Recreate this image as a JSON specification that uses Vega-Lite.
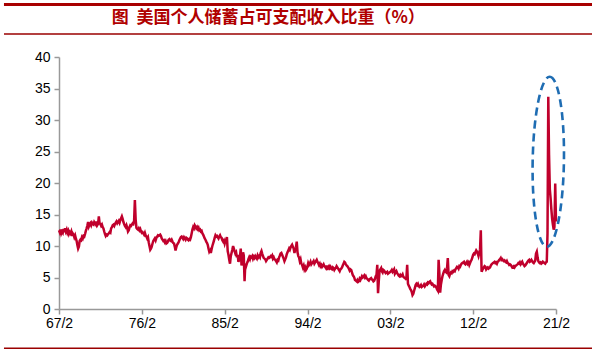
{
  "$schema": "https://vega.github.io/schema/vega-lite/v6.json",
  "width": 497,
  "height": 252,
  "autosize": "none",
  "padding": {"left": 59, "top": 57, "right": 36, "bottom": 40},
  "background": "white",
  "config": {
    "view": {"stroke": null},
    "axis": {"grid": false, "domainColor": "#999999", "tickColor": "#999999", "domainWidth": 1.5, "tickWidth": 1.5, "tickSize": 5, "labelFont": "Liberation Sans", "labelFontSize": 14, "labelColor": "#000000", "labelFlush": false, "labelOverlap": false, "title": null}
  },
  "data": {"values": [
{"d":"1967-02","v":12.5},{"d":"1967-03","v":12.2},{"d":"1967-04","v":12.6},{"d":"1967-05","v":12.0},{"d":"1967-06","v":12.3},{"d":"1967-07","v":12.1},{"d":"1967-08","v":12.7},{"d":"1967-09","v":12.2},{"d":"1967-10","v":12.8},{"d":"1967-11","v":12.3},{"d":"1967-12","v":12.6},
{"d":"1968-01","v":12.1},{"d":"1968-02","v":12.4},{"d":"1968-03","v":11.9},{"d":"1968-04","v":12.2},{"d":"1968-05","v":12.0},{"d":"1968-06","v":12.3},{"d":"1968-07","v":11.6},{"d":"1968-08","v":12.0},{"d":"1968-09","v":11.8},{"d":"1968-10","v":11.4},{"d":"1968-11","v":11.7},{"d":"1968-12","v":11.2},
{"d":"1969-01","v":10.8},{"d":"1969-02","v":10.1},{"d":"1969-03","v":9.6},{"d":"1969-04","v":9.9},{"d":"1969-05","v":10.8},{"d":"1969-06","v":11.0},{"d":"1969-07","v":10.9},{"d":"1969-08","v":11.4},{"d":"1969-09","v":11.2},{"d":"1969-10","v":11.6},{"d":"1969-11","v":11.5},{"d":"1969-12","v":11.9},
{"d":"1970-01","v":12.4},{"d":"1970-02","v":12.8},{"d":"1970-03","v":13.2},{"d":"1970-04","v":13.8},{"d":"1970-05","v":13.1},{"d":"1970-06","v":13.4},{"d":"1970-07","v":13.6},{"d":"1970-08","v":13.3},{"d":"1970-09","v":13.7},{"d":"1970-10","v":13.5},{"d":"1970-11","v":13.4},{"d":"1970-12","v":13.8},
{"d":"1971-01","v":13.6},{"d":"1971-02","v":13.4},{"d":"1971-03","v":13.9},{"d":"1971-04","v":13.3},{"d":"1971-05","v":13.5},{"d":"1971-06","v":14.7},{"d":"1971-07","v":13.6},{"d":"1971-08","v":13.5},{"d":"1971-09","v":13.2},{"d":"1971-10","v":13.4},{"d":"1971-11","v":13.0},{"d":"1971-12","v":12.8},
{"d":"1972-01","v":12.3},{"d":"1972-02","v":11.9},{"d":"1972-03","v":11.6},{"d":"1972-04","v":11.8},{"d":"1972-05","v":11.7},{"d":"1972-06","v":11.9},{"d":"1972-07","v":12.0},{"d":"1972-08","v":12.2},{"d":"1972-09","v":12.1},{"d":"1972-10","v":12.8},{"d":"1972-11","v":13.0},{"d":"1972-12","v":13.3},
{"d":"1973-01","v":13.4},{"d":"1973-02","v":13.2},{"d":"1973-03","v":13.5},{"d":"1973-04","v":13.7},{"d":"1973-05","v":13.9},{"d":"1973-06","v":13.6},{"d":"1973-07","v":13.8},{"d":"1973-08","v":14.0},{"d":"1973-09","v":13.7},{"d":"1973-10","v":14.1},{"d":"1973-11","v":14.4},{"d":"1973-12","v":14.7},
{"d":"1974-01","v":14.3},{"d":"1974-02","v":13.8},{"d":"1974-03","v":13.5},{"d":"1974-04","v":13.2},{"d":"1974-05","v":13.0},{"d":"1974-06","v":13.3},{"d":"1974-07","v":12.9},{"d":"1974-08","v":12.3},{"d":"1974-09","v":12.5},{"d":"1974-10","v":13.0},{"d":"1974-11","v":13.3},{"d":"1974-12","v":13.2},
{"d":"1975-01","v":13.4},{"d":"1975-02","v":13.6},{"d":"1975-03","v":13.5},{"d":"1975-04","v":14.0},{"d":"1975-05","v":17.3},{"d":"1975-06","v":14.2},{"d":"1975-07","v":12.9},{"d":"1975-08","v":12.7},{"d":"1975-09","v":12.6},{"d":"1975-10","v":12.8},{"d":"1975-11","v":12.5},{"d":"1975-12","v":12.7},
{"d":"1976-01","v":12.3},{"d":"1976-02","v":12.1},{"d":"1976-03","v":12.2},{"d":"1976-04","v":12.0},{"d":"1976-05","v":11.8},{"d":"1976-06","v":12.1},{"d":"1976-07","v":11.7},{"d":"1976-08","v":11.5},{"d":"1976-09","v":11.2},{"d":"1976-10","v":11.4},{"d":"1976-11","v":10.6},{"d":"1976-12","v":10.0},
{"d":"1977-01","v":9.4},{"d":"1977-02","v":9.6},{"d":"1977-03","v":9.9},{"d":"1977-04","v":10.4},{"d":"1977-05","v":10.8},{"d":"1977-06","v":11.0},{"d":"1977-07","v":11.2},{"d":"1977-08","v":10.9},{"d":"1977-09","v":11.3},{"d":"1977-10","v":11.5},{"d":"1977-11","v":11.7},{"d":"1977-12","v":11.6},
{"d":"1978-01","v":11.7},{"d":"1978-02","v":11.8},{"d":"1978-03","v":11.6},{"d":"1978-04","v":11.2},{"d":"1978-05","v":11.0},{"d":"1978-06","v":10.8},{"d":"1978-07","v":10.9},{"d":"1978-08","v":10.6},{"d":"1978-09","v":10.8},{"d":"1978-10","v":10.4},{"d":"1978-11","v":10.5},{"d":"1978-12","v":10.7},
{"d":"1979-01","v":11.0},{"d":"1979-02","v":11.1},{"d":"1979-03","v":10.9},{"d":"1979-04","v":10.8},{"d":"1979-05","v":11.0},{"d":"1979-06","v":10.7},{"d":"1979-07","v":10.5},{"d":"1979-08","v":10.4},{"d":"1979-09","v":9.9},{"d":"1979-10","v":9.3},{"d":"1979-11","v":9.8},{"d":"1979-12","v":10.2},
{"d":"1980-01","v":10.4},{"d":"1980-02","v":10.6},{"d":"1980-03","v":10.9},{"d":"1980-04","v":11.2},{"d":"1980-05","v":11.4},{"d":"1980-06","v":11.5},{"d":"1980-07","v":11.3},{"d":"1980-08","v":11.1},{"d":"1980-09","v":11.4},{"d":"1980-10","v":11.2},{"d":"1980-11","v":11.0},{"d":"1980-12","v":11.3},
{"d":"1981-01","v":11.2},{"d":"1981-02","v":11.0},{"d":"1981-03","v":10.9},{"d":"1981-04","v":11.1},{"d":"1981-05","v":11.0},{"d":"1981-06","v":11.4},{"d":"1981-07","v":12.0},{"d":"1981-08","v":12.6},{"d":"1981-09","v":13.0},{"d":"1981-10","v":12.8},{"d":"1981-11","v":13.3},{"d":"1981-12","v":13.1},
{"d":"1982-01","v":12.8},{"d":"1982-02","v":13.0},{"d":"1982-03","v":12.7},{"d":"1982-04","v":12.9},{"d":"1982-05","v":12.5},{"d":"1982-06","v":12.6},{"d":"1982-07","v":12.3},{"d":"1982-08","v":12.4},{"d":"1982-09","v":12.0},{"d":"1982-10","v":11.8},{"d":"1982-11","v":11.5},{"d":"1982-12","v":11.2},
{"d":"1983-01","v":11.0},{"d":"1983-02","v":10.7},{"d":"1983-03","v":10.5},{"d":"1983-04","v":10.2},{"d":"1983-05","v":9.6},{"d":"1983-06","v":9.1},{"d":"1983-07","v":9.3},{"d":"1983-08","v":8.9},{"d":"1983-09","v":9.5},{"d":"1983-10","v":10.0},{"d":"1983-11","v":10.4},{"d":"1983-12","v":10.8},
{"d":"1984-01","v":11.3},{"d":"1984-02","v":11.7},{"d":"1984-03","v":11.5},{"d":"1984-04","v":11.6},{"d":"1984-05","v":11.4},{"d":"1984-06","v":11.2},{"d":"1984-07","v":11.5},{"d":"1984-08","v":11.7},{"d":"1984-09","v":11.4},{"d":"1984-10","v":11.3},{"d":"1984-11","v":10.9},{"d":"1984-12","v":10.7},
{"d":"1985-01","v":10.9},{"d":"1985-02","v":10.4},{"d":"1985-03","v":10.8},{"d":"1985-04","v":11.0},{"d":"1985-05","v":11.4},{"d":"1985-06","v":9.2},{"d":"1985-07","v":8.6},{"d":"1985-08","v":7.8},{"d":"1985-09","v":7.2},{"d":"1985-10","v":8.4},{"d":"1985-11","v":8.9},{"d":"1985-12","v":9.4},
{"d":"1986-01","v":10.0},{"d":"1986-02","v":9.6},{"d":"1986-03","v":9.2},{"d":"1986-04","v":8.8},{"d":"1986-05","v":9.0},{"d":"1986-06","v":8.2},{"d":"1986-07","v":8.6},{"d":"1986-08","v":7.5},{"d":"1986-09","v":7.8},{"d":"1986-10","v":8.4},{"d":"1986-11","v":9.6},{"d":"1986-12","v":6.9},
{"d":"1987-01","v":8.0},{"d":"1987-02","v":9.0},{"d":"1987-03","v":8.5},{"d":"1987-04","v":4.4},{"d":"1987-05","v":7.2},{"d":"1987-06","v":6.8},{"d":"1987-07","v":7.2},{"d":"1987-08","v":7.5},{"d":"1987-09","v":7.9},{"d":"1987-10","v":8.2},{"d":"1987-11","v":7.9},{"d":"1987-12","v":8.3},
{"d":"1988-01","v":8.2},{"d":"1988-02","v":8.4},{"d":"1988-03","v":8.0},{"d":"1988-04","v":8.3},{"d":"1988-05","v":8.1},{"d":"1988-06","v":8.4},{"d":"1988-07","v":8.2},{"d":"1988-08","v":8.0},{"d":"1988-09","v":8.5},{"d":"1988-10","v":8.2},{"d":"1988-11","v":8.4},{"d":"1988-12","v":8.2},
{"d":"1989-01","v":8.9},{"d":"1989-02","v":9.2},{"d":"1989-03","v":8.8},{"d":"1989-04","v":8.4},{"d":"1989-05","v":8.1},{"d":"1989-06","v":8.0},{"d":"1989-07","v":7.9},{"d":"1989-08","v":7.6},{"d":"1989-09","v":7.8},{"d":"1989-10","v":8.0},{"d":"1989-11","v":8.2},{"d":"1989-12","v":8.1},
{"d":"1990-01","v":8.2},{"d":"1990-02","v":8.4},{"d":"1990-03","v":8.3},{"d":"1990-04","v":8.5},{"d":"1990-05","v":8.0},{"d":"1990-06","v":8.2},{"d":"1990-07","v":7.9},{"d":"1990-08","v":7.8},{"d":"1990-09","v":7.6},{"d":"1990-10","v":7.4},{"d":"1990-11","v":7.8},{"d":"1990-12","v":7.7},
{"d":"1991-01","v":8.2},{"d":"1991-02","v":8.5},{"d":"1991-03","v":8.8},{"d":"1991-04","v":8.9},{"d":"1991-05","v":8.6},{"d":"1991-06","v":8.3},{"d":"1991-07","v":8.0},{"d":"1991-08","v":7.6},{"d":"1991-09","v":7.9},{"d":"1991-10","v":8.2},{"d":"1991-11","v":8.7},{"d":"1991-12","v":9.0},
{"d":"1992-01","v":9.3},{"d":"1992-02","v":9.6},{"d":"1992-03","v":9.4},{"d":"1992-04","v":9.8},{"d":"1992-05","v":10.0},{"d":"1992-06","v":10.2},{"d":"1992-07","v":9.9},{"d":"1992-08","v":9.6},{"d":"1992-09","v":8.9},{"d":"1992-10","v":9.4},{"d":"1992-11","v":9.8},{"d":"1992-12","v":10.7},
{"d":"1993-01","v":9.0},{"d":"1993-02","v":8.4},{"d":"1993-03","v":8.2},{"d":"1993-04","v":7.6},{"d":"1993-05","v":7.9},{"d":"1993-06","v":7.2},{"d":"1993-07","v":7.0},{"d":"1993-08","v":6.6},{"d":"1993-09","v":6.9},{"d":"1993-10","v":6.3},{"d":"1993-11","v":6.6},{"d":"1993-12","v":6.2},
{"d":"1994-01","v":6.4},{"d":"1994-02","v":6.8},{"d":"1994-03","v":7.3},{"d":"1994-04","v":7.0},{"d":"1994-05","v":7.2},{"d":"1994-06","v":7.5},{"d":"1994-07","v":7.1},{"d":"1994-08","v":7.3},{"d":"1994-09","v":7.4},{"d":"1994-10","v":7.6},{"d":"1994-11","v":7.2},{"d":"1994-12","v":7.4},
{"d":"1995-01","v":7.6},{"d":"1995-02","v":7.8},{"d":"1995-03","v":7.5},{"d":"1995-04","v":7.3},{"d":"1995-05","v":7.0},{"d":"1995-06","v":7.2},{"d":"1995-07","v":6.8},{"d":"1995-08","v":7.0},{"d":"1995-09","v":6.7},{"d":"1995-10","v":6.9},{"d":"1995-11","v":7.1},{"d":"1995-12","v":6.8},
{"d":"1996-01","v":6.7},{"d":"1996-02","v":6.5},{"d":"1996-03","v":6.9},{"d":"1996-04","v":6.2},{"d":"1996-05","v":6.6},{"d":"1996-06","v":6.8},{"d":"1996-07","v":6.5},{"d":"1996-08","v":6.7},{"d":"1996-09","v":6.4},{"d":"1996-10","v":6.3},{"d":"1996-11","v":6.6},{"d":"1996-12","v":6.5},
{"d":"1997-01","v":6.2},{"d":"1997-02","v":6.4},{"d":"1997-03","v":6.5},{"d":"1997-04","v":6.8},{"d":"1997-05","v":6.6},{"d":"1997-06","v":6.4},{"d":"1997-07","v":6.2},{"d":"1997-08","v":6.0},{"d":"1997-09","v":6.3},{"d":"1997-10","v":6.4},{"d":"1997-11","v":6.6},{"d":"1997-12","v":6.9},
{"d":"1998-01","v":7.2},{"d":"1998-02","v":7.5},{"d":"1998-03","v":7.4},{"d":"1998-04","v":7.1},{"d":"1998-05","v":6.9},{"d":"1998-06","v":6.8},{"d":"1998-07","v":6.6},{"d":"1998-08","v":6.4},{"d":"1998-09","v":6.1},{"d":"1998-10","v":6.3},{"d":"1998-11","v":6.2},{"d":"1998-12","v":5.8},
{"d":"1999-01","v":5.4},{"d":"1999-02","v":5.2},{"d":"1999-03","v":5.0},{"d":"1999-04","v":4.6},{"d":"1999-05","v":4.5},{"d":"1999-06","v":4.4},{"d":"1999-07","v":4.6},{"d":"1999-08","v":4.3},{"d":"1999-09","v":4.4},{"d":"1999-10","v":4.8},{"d":"1999-11","v":4.6},{"d":"1999-12","v":4.9},
{"d":"2000-01","v":5.2},{"d":"2000-02","v":5.0},{"d":"2000-03","v":5.1},{"d":"2000-04","v":5.3},{"d":"2000-05","v":5.0},{"d":"2000-06","v":5.2},{"d":"2000-07","v":4.9},{"d":"2000-08","v":4.8},{"d":"2000-09","v":4.6},{"d":"2000-10","v":4.5},{"d":"2000-11","v":4.7},{"d":"2000-12","v":4.8},
{"d":"2001-01","v":4.9},{"d":"2001-02","v":4.7},{"d":"2001-03","v":4.6},{"d":"2001-04","v":4.4},{"d":"2001-05","v":4.5},{"d":"2001-06","v":4.8},{"d":"2001-07","v":5.2},{"d":"2001-08","v":5.4},{"d":"2001-09","v":7.0},{"d":"2001-10","v":2.5},{"d":"2001-11","v":4.5},{"d":"2001-12","v":6.1},
{"d":"2002-01","v":6.3},{"d":"2002-02","v":6.5},{"d":"2002-03","v":6.0},{"d":"2002-04","v":5.8},{"d":"2002-05","v":6.2},{"d":"2002-06","v":6.1},{"d":"2002-07","v":5.9},{"d":"2002-08","v":5.7},{"d":"2002-09","v":5.8},{"d":"2002-10","v":5.9},{"d":"2002-11","v":5.6},{"d":"2002-12","v":5.7},
{"d":"2003-01","v":5.8},{"d":"2003-02","v":5.9},{"d":"2003-03","v":6.0},{"d":"2003-04","v":6.2},{"d":"2003-05","v":5.9},{"d":"2003-06","v":6.1},{"d":"2003-07","v":6.3},{"d":"2003-08","v":5.6},{"d":"2003-09","v":5.8},{"d":"2003-10","v":6.0},{"d":"2003-11","v":5.7},{"d":"2003-12","v":5.5},
{"d":"2004-01","v":5.3},{"d":"2004-02","v":5.2},{"d":"2004-03","v":5.4},{"d":"2004-04","v":5.2},{"d":"2004-05","v":5.3},{"d":"2004-06","v":5.5},{"d":"2004-07","v":5.1},{"d":"2004-08","v":5.0},{"d":"2004-09","v":4.9},{"d":"2004-10","v":4.8},{"d":"2004-11","v":5.0},{"d":"2004-12","v":7.0},
{"d":"2005-01","v":4.0},{"d":"2005-02","v":3.7},{"d":"2005-03","v":3.5},{"d":"2005-04","v":3.2},{"d":"2005-05","v":3.0},{"d":"2005-06","v":2.7},{"d":"2005-07","v":2.2},{"d":"2005-08","v":2.4},{"d":"2005-09","v":2.9},{"d":"2005-10","v":3.3},{"d":"2005-11","v":3.8},{"d":"2005-12","v":4.0},
{"d":"2006-01","v":3.8},{"d":"2006-02","v":4.0},{"d":"2006-03","v":3.7},{"d":"2006-04","v":3.5},{"d":"2006-05","v":3.6},{"d":"2006-06","v":3.8},{"d":"2006-07","v":3.5},{"d":"2006-08","v":3.6},{"d":"2006-09","v":3.7},{"d":"2006-10","v":3.9},{"d":"2006-11","v":3.6},{"d":"2006-12","v":3.8},
{"d":"2007-01","v":4.0},{"d":"2007-02","v":3.9},{"d":"2007-03","v":4.2},{"d":"2007-04","v":4.1},{"d":"2007-05","v":4.3},{"d":"2007-06","v":4.4},{"d":"2007-07","v":4.1},{"d":"2007-08","v":3.9},{"d":"2007-09","v":4.0},{"d":"2007-10","v":3.8},{"d":"2007-11","v":3.6},{"d":"2007-12","v":3.7},
{"d":"2008-01","v":3.6},{"d":"2008-02","v":3.4},{"d":"2008-03","v":3.1},{"d":"2008-04","v":2.9},{"d":"2008-05","v":7.8},{"d":"2008-06","v":5.6},{"d":"2008-07","v":2.6},{"d":"2008-08","v":3.9},{"d":"2008-09","v":4.6},{"d":"2008-10","v":5.2},{"d":"2008-11","v":5.6},{"d":"2008-12","v":6.0},
{"d":"2009-01","v":6.2},{"d":"2009-02","v":5.9},{"d":"2009-03","v":5.8},{"d":"2009-04","v":6.4},{"d":"2009-05","v":8.1},{"d":"2009-06","v":5.4},{"d":"2009-07","v":5.2},{"d":"2009-08","v":5.6},{"d":"2009-09","v":5.8},{"d":"2009-10","v":5.7},{"d":"2009-11","v":6.0},{"d":"2009-12","v":5.9},
{"d":"2010-01","v":6.1},{"d":"2010-02","v":6.0},{"d":"2010-03","v":6.3},{"d":"2010-04","v":6.5},{"d":"2010-05","v":6.7},{"d":"2010-06","v":6.6},{"d":"2010-07","v":6.4},{"d":"2010-08","v":6.8},{"d":"2010-09","v":6.7},{"d":"2010-10","v":7.0},{"d":"2010-11","v":7.2},{"d":"2010-12","v":7.3},
{"d":"2011-01","v":7.4},{"d":"2011-02","v":7.5},{"d":"2011-03","v":7.2},{"d":"2011-04","v":7.1},{"d":"2011-05","v":7.3},{"d":"2011-06","v":7.5},{"d":"2011-07","v":7.2},{"d":"2011-08","v":7.4},{"d":"2011-09","v":7.0},{"d":"2011-10","v":7.3},{"d":"2011-11","v":7.6},{"d":"2011-12","v":7.8},
{"d":"2012-01","v":8.2},{"d":"2012-02","v":8.6},{"d":"2012-03","v":8.8},{"d":"2012-04","v":8.7},{"d":"2012-05","v":9.0},{"d":"2012-06","v":9.3},{"d":"2012-07","v":9.1},{"d":"2012-08","v":8.8},{"d":"2012-09","v":8.4},{"d":"2012-10","v":8.9},{"d":"2012-11","v":9.5},{"d":"2012-12","v":12.5},
{"d":"2013-01","v":5.9},{"d":"2013-02","v":6.2},{"d":"2013-03","v":6.4},{"d":"2013-04","v":6.6},{"d":"2013-05","v":6.8},{"d":"2013-06","v":6.7},{"d":"2013-07","v":6.3},{"d":"2013-08","v":6.5},{"d":"2013-09","v":6.6},{"d":"2013-10","v":6.4},{"d":"2013-11","v":6.5},{"d":"2013-12","v":6.6},
{"d":"2014-01","v":6.9},{"d":"2014-02","v":7.1},{"d":"2014-03","v":7.2},{"d":"2014-04","v":7.3},{"d":"2014-05","v":7.4},{"d":"2014-06","v":7.5},{"d":"2014-07","v":7.3},{"d":"2014-08","v":7.4},{"d":"2014-09","v":7.2},{"d":"2014-10","v":7.5},{"d":"2014-11","v":7.6},{"d":"2014-12","v":7.8},
{"d":"2015-01","v":7.9},{"d":"2015-02","v":8.1},{"d":"2015-03","v":7.8},{"d":"2015-04","v":7.9},{"d":"2015-05","v":7.7},{"d":"2015-06","v":7.6},{"d":"2015-07","v":7.7},{"d":"2015-08","v":7.5},{"d":"2015-09","v":7.4},{"d":"2015-10","v":7.6},{"d":"2015-11","v":7.3},{"d":"2015-12","v":7.2},
{"d":"2016-01","v":7.0},{"d":"2016-02","v":7.1},{"d":"2016-03","v":7.0},{"d":"2016-04","v":6.8},{"d":"2016-05","v":6.6},{"d":"2016-06","v":6.7},{"d":"2016-07","v":6.8},{"d":"2016-08","v":6.6},{"d":"2016-09","v":6.8},{"d":"2016-10","v":6.9},{"d":"2016-11","v":7.0},{"d":"2016-12","v":7.1},
{"d":"2017-01","v":7.3},{"d":"2017-02","v":7.2},{"d":"2017-03","v":7.4},{"d":"2017-04","v":7.1},{"d":"2017-05","v":7.3},{"d":"2017-06","v":7.5},{"d":"2017-07","v":7.2},{"d":"2017-08","v":7.0},{"d":"2017-09","v":6.8},{"d":"2017-10","v":6.9},{"d":"2017-11","v":7.1},{"d":"2017-12","v":7.3},
{"d":"2018-01","v":7.5},{"d":"2018-02","v":7.7},{"d":"2018-03","v":7.8},{"d":"2018-04","v":7.5},{"d":"2018-05","v":7.6},{"d":"2018-06","v":7.8},{"d":"2018-07","v":7.6},{"d":"2018-08","v":7.4},{"d":"2018-09","v":7.3},{"d":"2018-10","v":7.5},{"d":"2018-11","v":7.7},{"d":"2018-12","v":8.8},
{"d":"2019-01","v":9.1},{"d":"2019-02","v":8.2},{"d":"2019-03","v":7.6},{"d":"2019-04","v":7.4},{"d":"2019-05","v":7.3},{"d":"2019-06","v":7.4},{"d":"2019-07","v":7.2},{"d":"2019-08","v":7.3},{"d":"2019-09","v":7.5},{"d":"2019-10","v":7.4},{"d":"2019-11","v":7.3},{"d":"2019-12","v":7.2},
{"d":"2020-01","v":7.4},{"d":"2020-02","v":7.5},{"d":"2020-03","v":12.0},{"d":"2020-04","v":33.7},{"d":"2020-05","v":24.5},{"d":"2020-06","v":19.0},{"d":"2020-07","v":17.6},{"d":"2020-08","v":15.8},{"d":"2020-09","v":14.3},{"d":"2020-10","v":13.4},{"d":"2020-11","v":12.6},{"d":"2020-12","v":13.0},
{"d":"2021-01","v":19.9},{"d":"2021-02","v":13.9}
  ]},
  "layer": [
    {
      "mark": {"type": "line", "color": "#c0002c", "strokeWidth": 2.5},
      "encoding": {
        "x": {"field": "d", "type": "temporal", "scale": {"domain": [{"year": 1967, "month": 2, "date": 1}, {"year": 2021, "month": 2, "date": 1}], "nice": false},
              "axis": {"format": "%y/%-m", "labelPadding": 2, "values": [{"year": 1967, "month": 2, "date": 1}, {"year": 1976, "month": 2, "date": 1}, {"year": 1985, "month": 2, "date": 1}, {"year": 1994, "month": 2, "date": 1}, {"year": 2003, "month": 2, "date": 1}, {"year": 2012, "month": 2, "date": 1}, {"year": 2021, "month": 2, "date": 1}]}},
        "y": {"field": "v", "type": "quantitative", "scale": {"domain": [0, 40], "nice": false},
              "axis": {"values": [0, 5, 10, 15, 20, 25, 30, 35, 40], "labelPadding": 4}}
      }
    },
    {
      "data": {"values": [{}]},
      "mark": {"type": "rule", "color": "#a80000", "strokeWidth": 3, "clip": false},
      "encoding": {
        "x": {"datum": {"year": 1961, "month": 2, "date": 8}, "type": "temporal", "scale": {"domain": [{"year": 1967, "month": 2, "date": 1}, {"year": 2021, "month": 2, "date": 1}], "nice": false},
              "axis": {"format": "%y/%-m", "labelPadding": 2, "values": [{"year": 1967, "month": 2, "date": 1}, {"year": 1976, "month": 2, "date": 1}, {"year": 1985, "month": 2, "date": 1}, {"year": 1994, "month": 2, "date": 1}, {"year": 2003, "month": 2, "date": 1}, {"year": 2012, "month": 2, "date": 1}, {"year": 2021, "month": 2, "date": 1}]}},
        "x2": {"datum": {"year": 2025, "month": 6, "date": 1}},
        "y": {"datum": 48.33, "type": "quantitative", "scale": {"domain": [0, 40], "nice": false},
              "axis": {"values": [0, 5, 10, 15, 20, 25, 30, 35, 40], "labelPadding": 4}}
      }
    },
    {
      "data": {"values": [{}]},
      "mark": {"type": "rule", "color": "#9a0000", "strokeWidth": 1.5, "clip": false},
      "encoding": {
        "x": {"datum": {"year": 1961, "month": 2, "date": 8}, "type": "temporal", "scale": {"domain": [{"year": 1967, "month": 2, "date": 1}, {"year": 2021, "month": 2, "date": 1}], "nice": false},
              "axis": {"format": "%y/%-m", "labelPadding": 2, "values": [{"year": 1967, "month": 2, "date": 1}, {"year": 1976, "month": 2, "date": 1}, {"year": 1985, "month": 2, "date": 1}, {"year": 1994, "month": 2, "date": 1}, {"year": 2003, "month": 2, "date": 1}, {"year": 2012, "month": 2, "date": 1}, {"year": 2021, "month": 2, "date": 1}]}},
        "x2": {"datum": {"year": 2025, "month": 6, "date": 1}},
        "y": {"datum": 43.65, "type": "quantitative", "scale": {"domain": [0, 40], "nice": false},
              "axis": {"values": [0, 5, 10, 15, 20, 25, 30, 35, 40], "labelPadding": 4}}
      }
    },
    {
      "data": {"values": [{}]},
      "mark": {"type": "rule", "color": "#9a0000", "strokeWidth": 1.5, "clip": false},
      "encoding": {
        "x": {"datum": {"year": 1961, "month": 2, "date": 8}, "type": "temporal", "scale": {"domain": [{"year": 1967, "month": 2, "date": 1}, {"year": 2021, "month": 2, "date": 1}], "nice": false},
              "axis": {"format": "%y/%-m", "labelPadding": 2, "values": [{"year": 1967, "month": 2, "date": 1}, {"year": 1976, "month": 2, "date": 1}, {"year": 1985, "month": 2, "date": 1}, {"year": 1994, "month": 2, "date": 1}, {"year": 2003, "month": 2, "date": 1}, {"year": 2012, "month": 2, "date": 1}, {"year": 2021, "month": 2, "date": 1}]}},
        "x2": {"datum": {"year": 2025, "month": 6, "date": 1}},
        "y": {"datum": -6.24, "type": "quantitative", "scale": {"domain": [0, 40], "nice": false},
              "axis": {"values": [0, 5, 10, 15, 20, 25, 30, 35, 40], "labelPadding": 4}}
      }
    },
    {
      "data": {"values": [{"title": "图\u00a0\u00a0美国个人储蓄占可支配收入比重（%）"}]},
      "mark": {"type": "text", "align": "left", "baseline": "middle", "font": "Noto Sans CJK SC", "fontSize": 17, "fontWeight": "bold", "color": "#b00000", "clip": false},
      "encoding": {
        "text": {"field": "title"},
        "x": {"datum": {"year": 1972, "month": 10, "date": 23}, "type": "temporal", "scale": {"domain": [{"year": 1967, "month": 2, "date": 1}, {"year": 2021, "month": 2, "date": 1}], "nice": false},
              "axis": {"format": "%y/%-m", "labelPadding": 2, "values": [{"year": 1967, "month": 2, "date": 1}, {"year": 1976, "month": 2, "date": 1}, {"year": 1985, "month": 2, "date": 1}, {"year": 1994, "month": 2, "date": 1}, {"year": 2003, "month": 2, "date": 1}, {"year": 2012, "month": 2, "date": 1}, {"year": 2021, "month": 2, "date": 1}]}},
        "y": {"datum": 46.2, "type": "quantitative", "scale": {"domain": [0, 40], "nice": false},
              "axis": {"values": [0, 5, 10, 15, 20, 25, 30, 35, 40], "labelPadding": 4}}
      }
    },
    {
      "data": {"values": [{}]},
      "mark": {"type": "point", "shape": "M0,-1C0.1016,-1 0.184,-0.5523 0.184,0C0.184,0.5523 0.1016,1 0,1C-0.1016,1 -0.184,0.5523 -0.184,0C-0.184,-0.5523 -0.1016,-1 0,-1Z", "size": 28900, "filled": false, "stroke": "#1f6db3", "strokeWidth": 2.6, "strokeDash": [8, 5], "angle": 1, "opacity": 1, "clip": false},
      "encoding": {
        "x": {"datum": {"year": 2020, "month": 4, "date": 1}, "type": "temporal", "scale": {"domain": [{"year": 1967, "month": 2, "date": 1}, {"year": 2021, "month": 2, "date": 1}], "nice": false},
              "axis": {"format": "%y/%-m", "labelPadding": 2, "values": [{"year": 1967, "month": 2, "date": 1}, {"year": 1976, "month": 2, "date": 1}, {"year": 1985, "month": 2, "date": 1}, {"year": 1994, "month": 2, "date": 1}, {"year": 2003, "month": 2, "date": 1}, {"year": 2012, "month": 2, "date": 1}, {"year": 2021, "month": 2, "date": 1}]}},
        "y": {"datum": 23.38, "type": "quantitative", "scale": {"domain": [0, 40], "nice": false},
              "axis": {"values": [0, 5, 10, 15, 20, 25, 30, 35, 40], "labelPadding": 4}}
      }
    }
  ]
}
